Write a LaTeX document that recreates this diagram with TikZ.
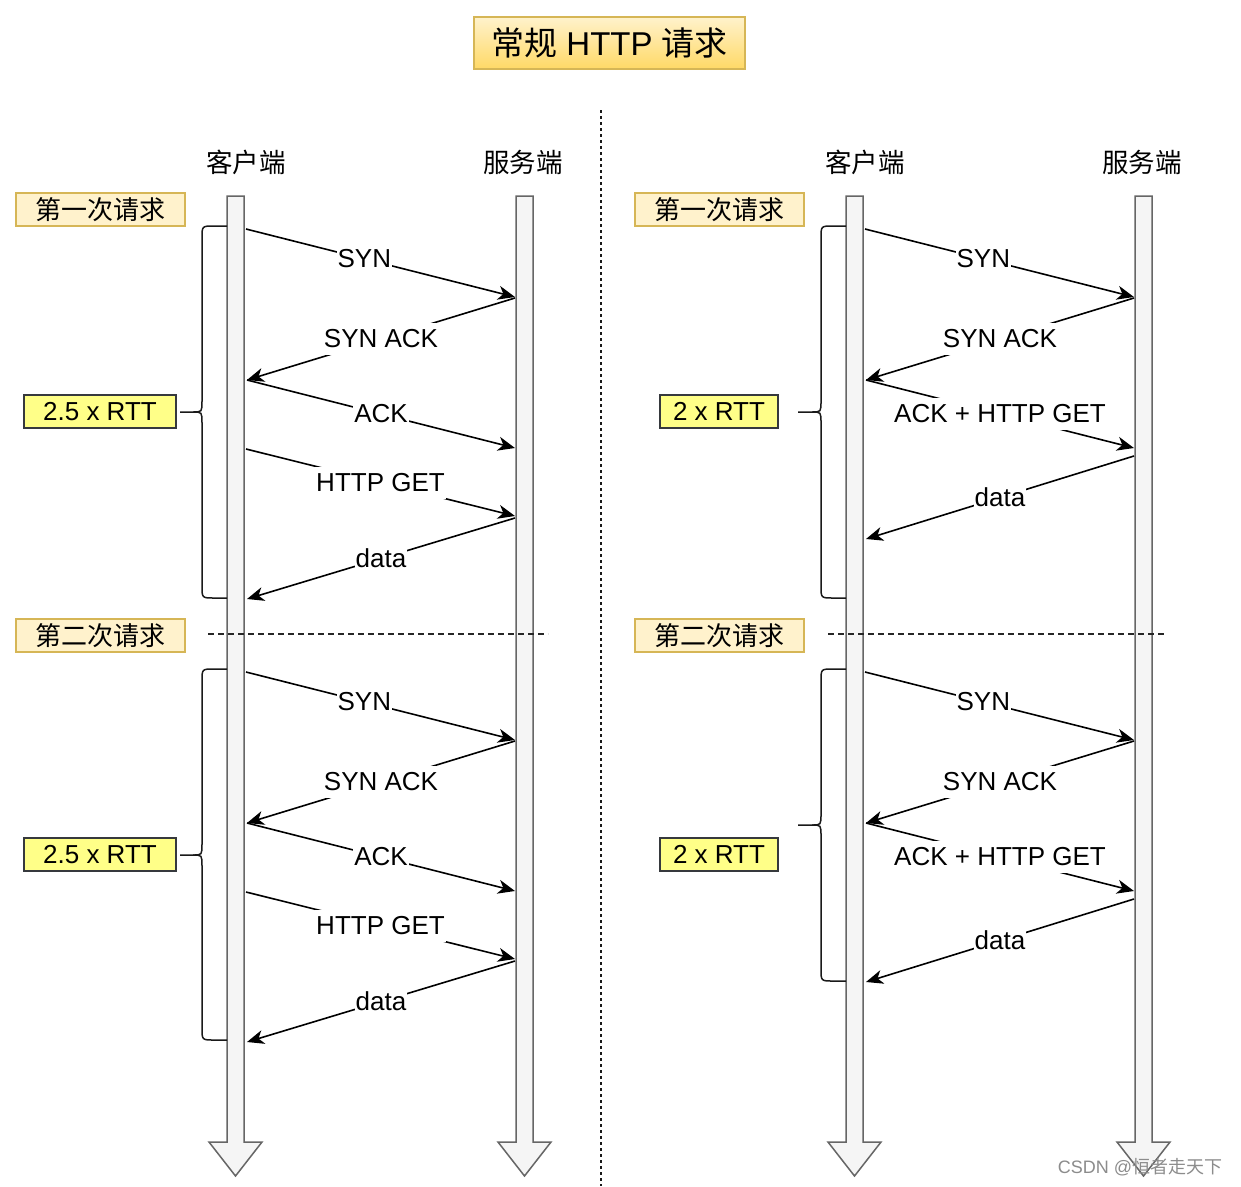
\documentclass[tikz,border=0pt]{standalone}
\usepackage{fontspec}
\setmainfont{Liberation Sans}
\newfontfamily\cjk{Noto Sans CJK SC}
\usetikzlibrary{arrows.meta}
\definecolor{barfill}{HTML}{F5F5F5}
\definecolor{barline}{HTML}{666666}
\definecolor{ylight}{HTML}{FFF2CC}
\definecolor{ydark}{HTML}{FFD966}
\definecolor{yline}{HTML}{D6B656}
\definecolor{rttfill}{HTML}{FFFF88}
\definecolor{rttline}{HTML}{36393D}
\definecolor{wmgray}{HTML}{8C8C8C}
\tikzset{
  lifeline/.style={fill=barfill, draw=barline, line width=1.5pt, line join=miter},
  msg/.style={-{Stealth[length=17pt,width=14pt,inset=5pt]}, line width=1.6pt},
  lbl/.style={fill=white, inner xsep=1pt, inner ysep=0pt, minimum height=32pt, font=\fontsize{26}{30}\selectfont},
  header/.style={inner sep=0pt, font=\cjk\fontsize{26.5}{30}\selectfont},
  reqbox/.style={fill=ylight, draw=yline, line width=1.5pt, minimum width=169pt, minimum height=33pt, inner sep=0pt, font=\cjk\fontsize{26}{30}\selectfont},
  rttbox/.style={fill=rttfill, draw=rttline, line width=1.4pt, minimum height=33pt, inner sep=0pt, font=\fontsize{26}{30}\selectfont},
  titlebox/.style={top color=ylight, bottom color=ydark, draw=yline, line width=1.5pt, minimum width=271pt, minimum height=52pt, inner sep=0pt, font=\fontsize{33}{38}\selectfont},
  bracestyle/.style={draw=black!90, line width=1.5pt},
  sepline/.style={draw=black!90, line width=1.6pt, dash pattern=on 3pt off 3pt},
  reqsep/.style={draw=black!85, line width=1.4pt, dash pattern=on 6pt off 4pt},
}
\newcommand\mybrace[6]{% #1 bar x, #2 vertical x, #3 tip x, #4 top, #5 mid, #6 bottom
  \draw[bracestyle] (#1,#4) -- ({#2+12},#4) .. controls (#2,#4) .. (#2,{#4+12})
     -- (#2,{#5-11}) .. controls (#2,#5) .. ({#2-9},#5) -- (#3,#5);
  \draw[bracestyle] (#1,#6) -- ({#2+12},#6) .. controls (#2,#6) .. (#2,{#6-12})
     -- (#2,{#5+11}) .. controls (#2,#5) .. ({#2-9},#5);
}
\begin{document}
\begin{tikzpicture}[x=1pt,y=-1pt]
\useasboundingbox (0,0) rectangle (1241,1186);
\fill[white] (0,0) rectangle (1241,1186);

% title
\node[titlebox] (title) at (609.5,43) {{\cjk 常规} HTTP {\cjk 请求}};

% separator
\coordinate (septop) at (601,110);
\coordinate (sepbot) at (601,1186);
\draw[sepline] (septop) -- (sepbot);

% headers
\node[header] (hLc) at (246,162) {客户端};
\node[header] (hLs) at (523,162) {服务端};
\node[header] (hRc) at (865,162) {客户端};
\node[header] (hRs) at (1142,162) {服务端};

% lifelines
\foreach \cx in {235.5,524.5,854.5,1143.5}{
  \draw[lifeline] ({\cx-8.5},196) -- ({\cx+8.5},196) -- ({\cx+8.5},1142) -- ({\cx+26.5},1142)
     -- (\cx,1176) -- ({\cx-26.5},1142) -- ({\cx-8.5},1142) -- cycle;
}

% request labels
\node[reqbox] (req1L) at (100.5,209.5) {第一次请求};
\node[reqbox] (req2L) at (100.5,635.5) {第二次请求};
\node[reqbox] (req1R) at (719.5,209.5) {第一次请求};
\node[reqbox] (req2R) at (719.5,635.5) {第二次请求};

% request separators
\coordinate (dL1) at (208,634); \coordinate (dL2) at (548,634);
\coordinate (dR1) at (828,634); \coordinate (dR2) at (1167,634);
\draw[reqsep] (dL1) -- (dL2);
\draw[reqsep] (dR1) -- (dR2);

% RTT boxes
\node[rttbox, minimum width=152pt] (rttL1) at (100,411.5) {2.5 x RTT};
\node[rttbox, minimum width=152pt] (rttL2) at (100,854.5) {2.5 x RTT};
\node[rttbox, minimum width=118pt] (rttR1) at (719,411.5) {2 x RTT};
\node[rttbox, minimum width=118pt] (rttR2) at (719,854.5) {2 x RTT};

% braces
\mybrace{227}{202}{180}{226}{412}{598}
\mybrace{227}{202}{180}{669}{855}{1040}
\mybrace{846}{821}{798}{226}{412}{598}
\mybrace{846}{821}{798}{669}{825}{981}

% left panel messages
\foreach \dy/\tg in {0/a,443/b}{
  \coordinate (L\tg1) at (246,{229+\dy});
  \coordinate (L\tg2) at (515,{297+\dy});
  \coordinate (L\tg3) at (515,{298+\dy});
  \coordinate (L\tg4) at (247,{380+\dy});
  \coordinate (L\tg5) at (515,{448+\dy});
  \coordinate (L\tg6) at (246,{449+\dy});
  \coordinate (L\tg7) at (515,{516+\dy});
  \coordinate (L\tg8) at (515,{518+\dy});
  \coordinate (L\tg9) at (247,{599+\dy});
  \draw[msg] (L\tg1) -- node[lbl,pos=0.44] (Lsyn\tg) {SYN} (L\tg2);
  \draw[msg] (L\tg3) -- node[lbl] (Lsynack\tg) {SYN ACK} (L\tg4);
  \draw[msg] (L\tg4) -- node[lbl] (Lack\tg) {ACK} (L\tg5);
  \draw[msg] (L\tg6) -- node[lbl] (Lget\tg) {HTTP GET} (L\tg7);
  \draw[msg] (L\tg8) -- node[lbl] (Ldata\tg) {data} (L\tg9);
}

% right panel messages
\foreach \dy/\tg in {0/a,443/b}{
  \coordinate (R\tg1) at (865,{229+\dy});
  \coordinate (R\tg2) at (1134,{297+\dy});
  \coordinate (R\tg3) at (1134,{298+\dy});
  \coordinate (R\tg4) at (866,{380+\dy});
  \coordinate (R\tg5) at (1134,{448+\dy});
  \coordinate (R\tg6) at (1134,{456+\dy});
  \coordinate (R\tg7) at (866,{539+\dy});
  \draw[msg] (R\tg1) -- node[lbl,pos=0.44] (Rsyn\tg) {SYN} (R\tg2);
  \draw[msg] (R\tg3) -- node[lbl] (Rsynack\tg) {SYN ACK} (R\tg4);
  \draw[msg] (R\tg4) -- node[lbl] (Rackget\tg) {ACK + HTTP GET} (R\tg5);
  \draw[msg] (R\tg6) -- node[lbl] (Rdata\tg) {data} (R\tg7);
}

% watermark
\node[inner sep=0pt, text=wmgray, font=\fontsize{18}{22}\selectfont] (wm) at (1140,1167) {CSDN @{\cjk 恒者走天下}};
\end{tikzpicture}
\end{document}
